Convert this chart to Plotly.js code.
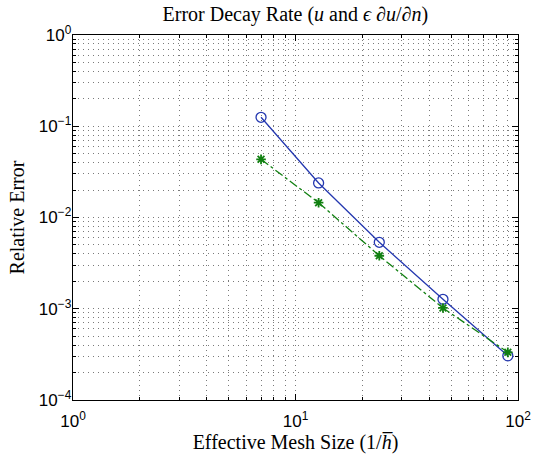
<!DOCTYPE html>
<html>
<head>
<meta charset="utf-8">
<script src="https://cdn.plot.ly/plotly-3.0.1.min.js"></script>
<style>html,body{margin:0;padding:0;background:#fff;}#chart{width:534px;height:457px;}</style>
</head>
<body>
<div id="chart"></div>
<script>
// Data
const meshSize = [7, 12.7, 23.8, 46, 90];
const errU = [0.1254, 0.0239, 0.00535, 0.00127, 0.000305];
const errDudn = [0.0434, 0.01453, 0.00381, 0.00102, 0.000333];

// Tick labels
const xTickVals = [1, 10, 100];
const xTickText = ['10<sup>0</sup>', '10<sup>1</sup>', '10<sup>2</sup>'];
const yTickVals = [1e-4, 1e-3, 1e-2, 1e-1, 1];
const yTickText = ['10<sup>\u22124</sup>', '10<sup>\u22123</sup>', '10<sup>\u22122</sup>', '10<sup>\u22121</sup>', '10<sup>0</sup>'];

function minorVals(lo, hi) {
  const out = [];
  for (let d = lo; d < hi; d++) {
    for (let k = 2; k <= 9; k++) out.push(k * Math.pow(10, d));
  }
  return out;
}

const gridDash = '1px,4px';
const gridColor = '#7a7a7a';
const tickFont = {family: 'Liberation Sans, Arial, sans-serif', size: 17, color: '#000'};
const serif = 'Liberation Serif, Times New Roman, serif';

const traces = [
  {
    x: meshSize, y: errU, type: 'scatter', mode: 'lines+markers',
    line: {color: '#2438b0', width: 1.3},
    marker: {symbol: 'circle-open', size: 10, color: '#2438b0', line: {width: 1.3, color: '#2438b0'}},
    name: 'u'
  },
  {
    x: meshSize, y: errDudn, type: 'scatter', mode: 'lines+markers',
    line: {color: '#118011', width: 1.3, dash: 'dashdot'},
    marker: {symbol: 'asterisk-open', size: 8, color: '#118011', line: {width: 1.8, color: '#118011'}},
    name: 'du/dn'
  }
];

const axisCommon = {
  type: 'log',
  showline: true, linecolor: '#000', linewidth: 1.3, mirror: 'allticks',
  ticks: 'inside', ticklen: 6, tickcolor: '#000', tickwidth: 1,
  showgrid: true, gridcolor: gridColor, gridwidth: 1, griddash: gridDash,
  zeroline: false, tickmode: 'array', tickfont: tickFont
};

const layout = {
  width: 534, height: 457,
  margin: {l: 73, r: 16, t: 35, b: 57},
  paper_bgcolor: '#fff', plot_bgcolor: '#fff',
  showlegend: false,
  title: {
    text: 'Error Decay Rate (<i>u</i> and <i>\u03f5</i> \u2202<i>u</i>/\u2202<i>n</i>)',
    font: {family: serif, size: 20, color: '#000'},
    x: 0.553, xanchor: 'center', y: 0.97, yanchor: 'middle'
  },
  xaxis: Object.assign({}, axisCommon, {
    range: [0, 2],
    tickvals: xTickVals, ticktext: xTickText,
    ticklabelstandoff: 5,
    minor: {tickmode: 'array', tickvals: minorVals(0, 2), ticks: 'inside', ticklen: 3, tickcolor: '#000',
            showgrid: true, gridcolor: gridColor, gridwidth: 1, griddash: gridDash},
    title: {text: 'Effective Mesh Size (1/<i>h\u0305</i>)', font: {family: serif, size: 20, color: '#000'}, standoff: 4}
  }),
  yaxis: Object.assign({}, axisCommon, {
    range: [-4, 0],
    tickvals: yTickVals, ticktext: yTickText,
    ticklabelstandoff: -3,
    minor: {tickmode: 'array', tickvals: minorVals(-4, 0), ticks: 'inside', ticklen: 3, tickcolor: '#000',
            showgrid: true, gridcolor: gridColor, gridwidth: 1, griddash: gridDash},
    title: {text: 'Relative Error', font: {family: serif, size: 20, color: '#000'}, standoff: 8}
  })
};

Plotly.newPlot('chart', traces, layout, {displayModeBar: false, staticPlot: true});
</script>
</body>
</html>
